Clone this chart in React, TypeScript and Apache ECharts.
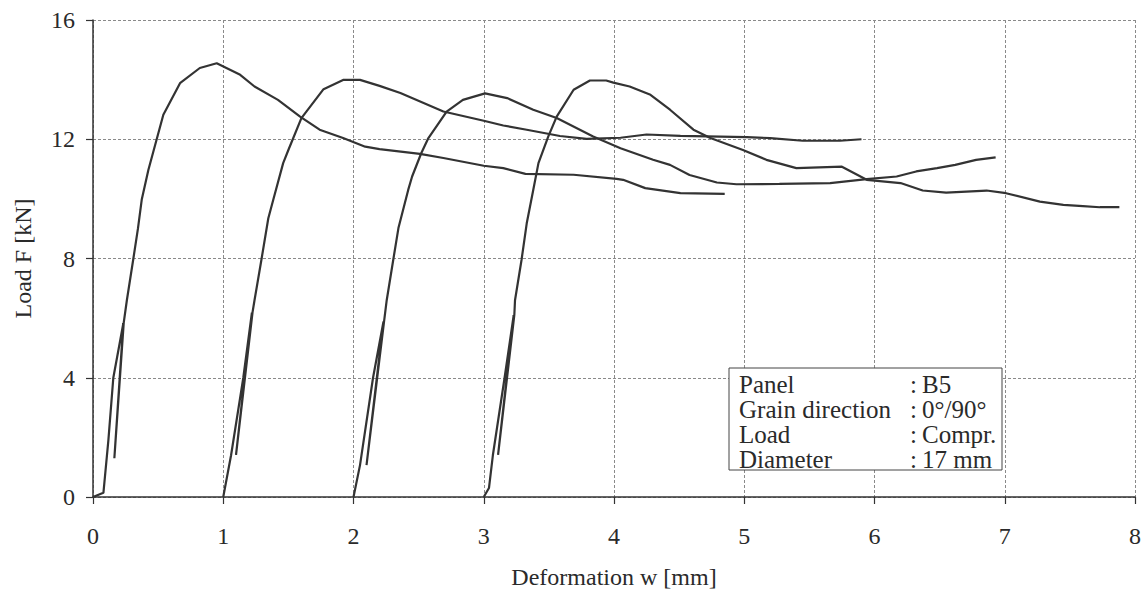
import React, { useEffect, useRef } from "react";
import * as echarts from "echarts";

const xTicks = [0, 1, 2, 3, 4, 5, 6, 7, 8];
const yTicks = [0, 4, 8, 12, 16];

const curveA: number[][] = [
  [0, 0], [0.08, 0.14], [0.118, 1.9], [0.156, 4.0], [0.233, 5.83], [0.164, 1.3], [0.236, 5.85],
  [0.26, 6.6], [0.31, 8.0], [0.345, 9.0], [0.374, 9.97], [0.425, 10.97], [0.54, 12.82],
  [0.668, 13.88], [0.82, 14.39], [0.95, 14.55], [1.13, 14.16], [1.24, 13.77], [1.42, 13.32],
  [1.59, 12.76], [1.74, 12.32], [1.92, 12.04], [2.09, 11.75], [2.2, 11.67], [2.51, 11.51],
  [2.69, 11.37], [3.0, 11.11], [3.15, 11.03], [3.32, 10.84], [3.69, 10.81], [4.02, 10.67],
  [4.07, 10.64], [4.24, 10.36], [4.51, 10.19], [4.85, 10.17],
];

const curveB: number[][] = [
  [1.0, 0], [1.06, 1.4], [1.154, 4.0], [1.22, 6.18], [1.098, 1.41], [1.225, 6.2], [1.24, 6.6],
  [1.295, 8.01], [1.346, 9.35], [1.384, 9.97], [1.46, 11.2], [1.5, 11.64], [1.6, 12.71],
  [1.77, 13.68], [1.92, 13.99], [2.05, 13.99], [2.2, 13.79], [2.36, 13.55], [2.69, 12.93],
  [3.0, 12.62], [3.15, 12.46], [3.33, 12.32], [3.585, 12.11], [3.79, 12.01], [4.05, 12.05],
  [4.25, 12.16], [4.51, 12.11], [5.02, 12.07], [5.2, 12.04], [5.45, 11.95], [5.735, 11.95],
  [5.9, 12.0],
];

const curveC: number[][] = [
  [2.0, 0], [2.05, 1.07], [2.15, 4.0], [2.23, 5.88], [2.1, 1.07], [2.235, 5.9], [2.255, 6.6],
  [2.305, 7.95], [2.345, 9.02], [2.42, 10.3], [2.45, 10.75], [2.52, 11.53], [2.575, 12.04],
  [2.715, 12.93], [2.84, 13.32], [3.01, 13.54], [3.18, 13.38], [3.38, 12.99], [3.56, 12.71],
  [3.84, 12.09], [4.05, 11.7], [4.3, 11.31], [4.43, 11.14], [4.58, 10.8], [4.79, 10.55],
  [4.94, 10.49], [5.27, 10.5], [5.66, 10.53], [5.94, 10.66], [6.17, 10.75], [6.32, 10.92],
  [6.48, 11.03], [6.62, 11.14], [6.78, 11.31], [6.93, 11.39],
];

const curveD: number[][] = [
  [3.0, 0], [3.04, 0.3], [3.07, 1.4], [3.16, 4.0], [3.23, 6.1], [3.11, 1.41], [3.235, 6.12],
  [3.24, 6.6], [3.29, 7.95], [3.33, 9.18], [3.38, 10.3], [3.42, 11.2], [3.495, 12.09],
  [3.56, 12.76], [3.69, 13.66], [3.815, 13.97], [3.94, 13.97], [3.995, 13.9], [4.12, 13.77],
  [4.28, 13.49], [4.43, 12.99], [4.61, 12.32], [4.74, 12.04], [4.99, 11.64], [5.17, 11.31],
  [5.4, 11.03], [5.75, 11.08], [5.94, 10.64], [6.2, 10.53], [6.37, 10.28], [6.55, 10.21],
  [6.86, 10.28], [7.01, 10.19], [7.27, 9.91], [7.45, 9.8], [7.6, 9.76], [7.73, 9.72], [7.88, 9.72],
];

const curves = [curveA, curveB, curveC, curveD];

const legendLabels = ["Panel", "Grain direction", "Load", "Diameter"];
const legendValues = ["B5", "0°/90°", "Compr.", "17 mm"];

const FONT = "'Liberation Serif', 'Times New Roman', serif";
const TEXT = "#2a2a2a";

export default function App() {
  const ref = useRef<HTMLDivElement>(null);
  useEffect(() => {
    document.body.style.margin = "0";
    const chart = echarts.init(ref.current!, undefined, { renderer: "svg" });

    const boxLeft = 729, boxTop = 368, lineH = 25.3;
    const legendEls: any[] = [
      {
        type: "rect",
        shape: { x: boxLeft, y: boxTop, width: 273, height: 102 },
        style: { fill: "#fff", stroke: "#444", lineWidth: 1 },
        z: 100,
      },
    ];
    legendLabels.forEach((lab, i) => {
      const cy = boxTop + 16 + i * lineH;
      legendEls.push({
        type: "text", x: boxLeft + 10, y: cy, z: 101,
        style: { text: lab, font: `25px ${FONT}`, fill: TEXT, verticalAlign: "middle", align: "left" },
      });
      legendEls.push({
        type: "text", x: 910, y: cy, z: 101,
        style: { text: ":", font: `25px ${FONT}`, fill: TEXT, verticalAlign: "middle", align: "left" },
      });
      legendEls.push({
        type: "text", x: 922, y: cy, z: 101,
        style: { text: legendValues[i], font: `25px ${FONT}`, fill: TEXT, verticalAlign: "middle", align: "left" },
      });
    });

    chart.setOption({
      animation: false,
      backgroundColor: "#fff",
      grid: { left: 93, right: 13, top: 20, bottom: 100, containLabel: false },
      xAxis: {
        type: "value",
        min: xTicks[0],
        max: xTicks[xTicks.length - 1],
        interval: 1,
        name: "Deformation w [mm]",
        nameLocation: "middle",
        nameGap: 68,
        nameTextStyle: { fontFamily: FONT, fontSize: 24, color: TEXT },
        axisLine: { show: true, lineStyle: { color: "#333", width: 1.5 } },
        axisTick: { show: true, inside: false, length: 7, lineStyle: { color: "#333", width: 1.2 } },
        axisLabel: { margin: 27, fontFamily: FONT, fontSize: 24, color: TEXT },
        splitLine: { show: true, lineStyle: { color: "#8a8a8a", type: [3, 2], width: 1 } },
      },
      yAxis: {
        type: "value",
        min: yTicks[0],
        max: yTicks[yTicks.length - 1],
        interval: 4,
        name: "Load F [kN]",
        nameLocation: "middle",
        nameRotate: 90,
        nameGap: 58,
        nameTextStyle: { fontFamily: FONT, fontSize: 24, color: TEXT },
        axisLine: { show: true, lineStyle: { color: "#333", width: 1.5 } },
        axisTick: { show: true, inside: false, length: 7, lineStyle: { color: "#333", width: 1.2 } },
        axisLabel: { margin: 18, fontFamily: FONT, fontSize: 24, color: TEXT },
        splitLine: { show: true, lineStyle: { color: "#8a8a8a", type: [3, 2], width: 1 } },
      },
      series: curves.map((c) => ({
        type: "line",
        data: c,
        showSymbol: false,
        smooth: false,
        lineStyle: { color: "#333", width: 2.2 },
        z: 5,
      })),
      graphic: legendEls,
    });
    return () => chart.dispose();
  }, []);
  return <div ref={ref} style={{ width: 1148, height: 597 }} />;
}
